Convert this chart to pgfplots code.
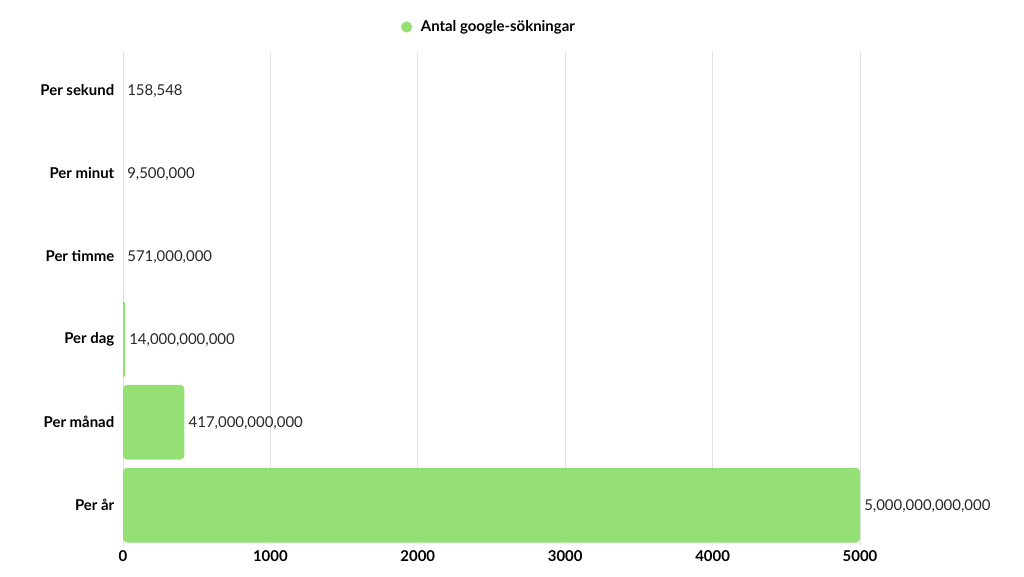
\documentclass[border=0pt]{standalone}
\usepackage{fontspec}
\setmainfont{Lato}
\usepackage{pgfplots}
\pgfplotsset{compat=1.18}
\usepackage{pgfplotstable}
\definecolor{bargreen}{HTML}{95E074}
\definecolor{gridgray}{HTML}{E2E2E2}

% values in billions of searches
\pgfplotstableread{
y x label
0 5000 5,000,000,000,000
1 417 417,000,000,000
2 14 14,000,000,000
3 0.571 571,000,000
4 0.0095 9,500,000
5 0.000158548 158,548
}\searches

\begin{document}
\begin{tikzpicture}
\useasboundingbox (0pt,0pt) rectangle (768pt,-432pt);
\begin{axis}[
    at={(92.25pt,-408.75pt)}, anchor=south west,
    scale only axis,
    width=552.75pt, height=369.75pt,
    xbar, bar width=56pt, bar shift=0pt,
    xmin=0, xmax=5000,
    ymin=-0.48, ymax=5.46,
    xtick={0,1000,...,5000},
    ytick={0,...,5},
    yticklabels={Per år, Per månad, Per dag, Per timme, Per minut, Per sekund},
    /pgf/number format/1000 sep={},
    /pgf/number format/assume math mode=true,
    xticklabel style={font=\bfseries\fontsize{11.2}{13}\selectfont, yshift=-1pt},
    yticklabel style={font=\bfseries\fontsize{11.2}{13}\selectfont, xshift=-3pt},
    major tick length=0pt,
    axis line style={draw=none},
    xmajorgrids, grid style={gridgray, line width=0.6pt},
    legend style={at={(0.497,1.0507)}, anchor=center, draw=none,
        font=\bfseries\fontsize{11.2}{13}\selectfont},
    legend image code/.code={\fill[bargreen] (0.1cm,0cm) circle (4.2pt);},
    nodes near coords,
    point meta=explicit symbolic,
    every node near coord/.append style={anchor=west, inner sep=0pt, xshift=3pt, yshift=-1pt,
        font=\fontsize{11.2}{13}\selectfont, text=black!85},
]
\addplot[fill=bargreen, draw=none, rounded corners=3pt,
    restrict x to domain=20:6000] table[x=x, y=y, meta=label] {\searches};
\addlegendentry{\hspace{4.5pt}Antal google-sökningar}
\addplot[fill=bargreen, draw=none, forget plot,
    restrict x to domain=0:20] table[x=x, y=y, meta=label] {\searches};
\end{axis}
\end{tikzpicture}
\end{document}
